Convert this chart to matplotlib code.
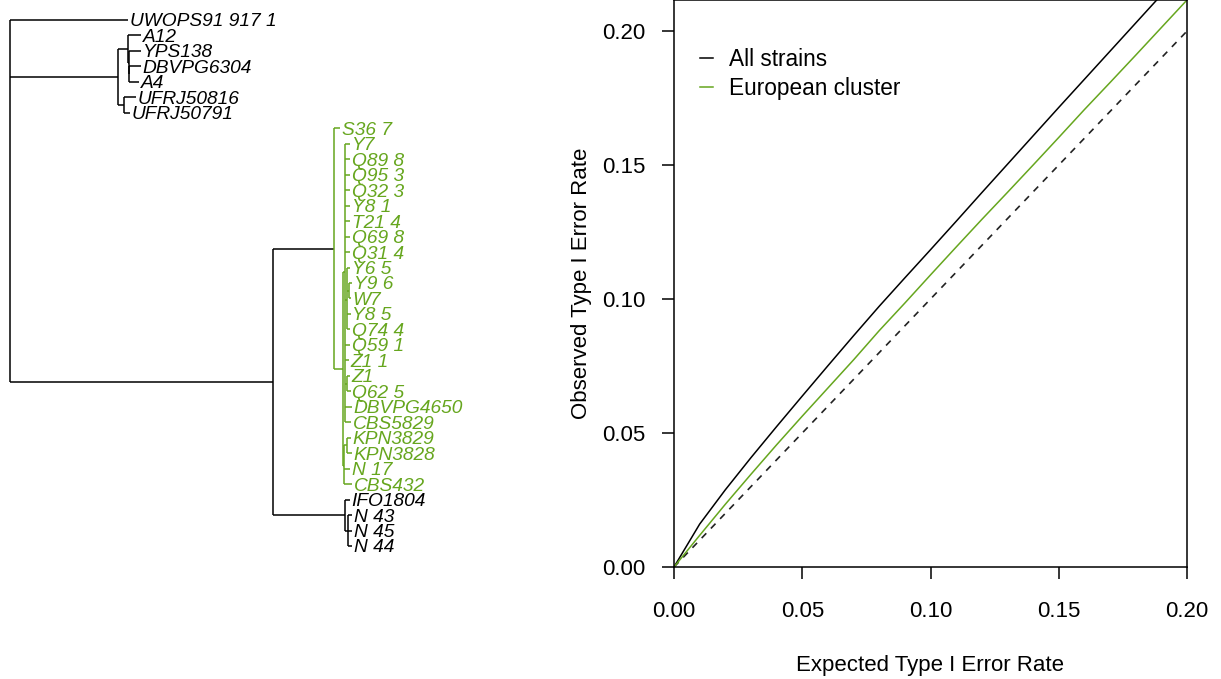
import matplotlib
matplotlib.use("Agg")
import matplotlib.pyplot as plt
import numpy as np

plt.rcParams['font.family'] = ['Liberation Sans', 'DejaVu Sans']

# tree (branch lengths in drawing units), tips listed top to bottom
newick = ("(UWOPS91 917 1:118,"
          "((A12:13,(YPS138:12.5,(DBVPG6304:12,A4:10):0.5):0.5):10.5,"
          "(UFRJ50816:12,UFRJ50791:6):6.5):107.5,"
          "((S36 7:6,("
          "(Y7:5,Q89 8:5,Q95 3:5,Q32 3:5,Y8 1:5,T21 4:5,Q69 8:5,Q31 4:5,"
          "(Y6 5:3.5,(Y9 6:3,W7:2):2.5,Y8 5:4.5,Q74 4:3.5):1.5,"
          "Q59 1:5,Z1 1:4,(Z1:3,Q62 5:4):2,DBVPG4650:7,CBS5829:6):2,"
          "((KPN3829:4,KPN3828:5):3,N 17:6,CBS432:8):1):9):61,"
          "(IFO1804:5,(N 43:4,N 45:4,N 44:4):3):72):263);")

european = ["S36 7", "Y7", "Q89 8", "Q95 3", "Q32 3", "Y8 1", "T21 4", "Q69 8",
            "Q31 4", "Y6 5", "Y9 6", "W7", "Y8 5", "Q74 4", "Q59 1", "Z1 1", "Z1",
            "Q62 5", "DBVPG4650", "CBS5829", "KPN3829", "KPN3828", "N 17", "CBS432"]

# type I error curves
expected = [0.00, 0.01, 0.02, 0.03, 0.04, 0.05, 0.06, 0.07, 0.08, 0.09, 0.10,
            0.11, 0.12, 0.13, 0.14, 0.15, 0.16, 0.17, 0.18, 0.19, 0.20]
obs_all = [0.0, 0.0160, 0.0288, 0.0408, 0.0524, 0.0638, 0.0751, 0.0863, 0.0973,
           0.1079, 0.1184, 0.1290, 0.1397, 0.1503, 0.1609, 0.1715, 0.1820,
           0.1925, 0.2030, 0.2135, 0.2240]
obs_eur = [0.0, 0.0118, 0.0234, 0.0346, 0.0456, 0.0563, 0.0668, 0.0773, 0.0882,
           0.0985, 0.1090, 0.1194, 0.1297, 0.1398, 0.1500, 0.1603, 0.1707,
           0.1808, 0.1910, 0.2013, 0.2116]

GREEN = "#66A61E"


def parse(s, i=0):
    node = {"children": [], "name": "", "bl": 0.0}
    if s[i] == "(":
        i += 1
        while True:
            child, i = parse(s, i)
            node["children"].append(child)
            if s[i] == ",":
                i += 1
                continue
            i += 1
            break
    j = i
    while s[j] not in ":,);":
        j += 1
    node["name"] = s[i:j]
    i = j
    if s[i] == ":":
        j = i + 1
        while s[j] not in ",);":
            j += 1
        node["bl"] = float(s[i + 1:j])
        i = j
    return node, i


def tips(node):
    if not node["children"]:
        return [node["name"]]
    out = []
    for c in node["children"]:
        out += tips(c)
    return out


counter = [0]


def layout(node, x):
    node["x"] = x
    if not node["children"]:
        node["y"] = counter[0]
        counter[0] += 1
    else:
        for c in node["children"]:
            layout(c, x + c["bl"])
        node["y"] = np.mean([c["y"] for c in node["children"]])


def mark(node, green):
    if set(tips(node)) == set(european):
        green = True
    node["green"] = green
    for c in node["children"]:
        mark(c, green)


tree, _ = parse(newick)
layout(tree, 10)
mark(tree, False)

fig = plt.figure(figsize=(12.21, 6.79), dpi=100)

# ---- tree panel
axt = fig.add_axes([0, 0, 0.46, 1])
axt.set_xlim(0, 0.46 * 1221)
axt.set_ylim((679 - 20) / 15.47, -20 / 15.47)
axt.axis("off")


def draw(node):
    if not node["children"]:
        axt.text(node["x"] + 1.5, node["y"], node["name"], ha="left",
                 va="center_baseline", fontsize=13.8, fontstyle="italic",
                 color=GREEN if node["green"] else "black")
        return
    col = GREEN if node["green"] else "black"
    ys = [c["y"] for c in node["children"]]
    axt.plot([node["x"], node["x"]], [ys[0], ys[-1]], color=col, lw=1.1,
             solid_capstyle="butt")
    for c in node["children"]:
        axt.plot([node["x"], c["x"]], [c["y"], c["y"]], color=col, lw=1.1,
                 solid_capstyle="butt")
        draw(c)


draw(tree)

# ---- type I error panel
ax = fig.add_axes([674 / 1221, 1 - 567 / 679, 513 / 1221, 567 / 679])
ax.plot([0, 0.2], [0, 0.2], color="#222222", lw=1.2, linestyle=(0, (4, 4)))
ax.plot(expected, obs_all, color="black", lw=1.1, label="All strains")
ax.plot(expected, obs_eur, color=GREEN, lw=1.1, label="European cluster")
ax.set_xlim(0, 0.2)
ax.set_ylim(0, 0.2116)
ticks = [0.00, 0.05, 0.10, 0.15, 0.20]
ax.set_xticks(ticks, ["%.2f" % t for t in ticks])
ax.set_yticks(ticks, ["%.2f" % t for t in ticks])
ax.tick_params(labelsize=16, length=8.5, width=1.1, pad=12)
ax.tick_params(axis="x", pad=16)
for sp in ax.spines.values():
    sp.set_linewidth(1.1)
ax.set_xlabel("Expected Type I Error Rate", fontsize=16, labelpad=24)
ax.set_ylabel("Observed Type I Error Rate", fontsize=16, labelpad=7)
ax.legend(loc="upper left", bbox_to_anchor=(0.05, 0.916), frameon=False,
          fontsize=16.3, handlelength=0.6, handletextpad=0.7, labelspacing=0.3,
          borderpad=0, borderaxespad=0)

fig.savefig("out.png", dpi=100)
